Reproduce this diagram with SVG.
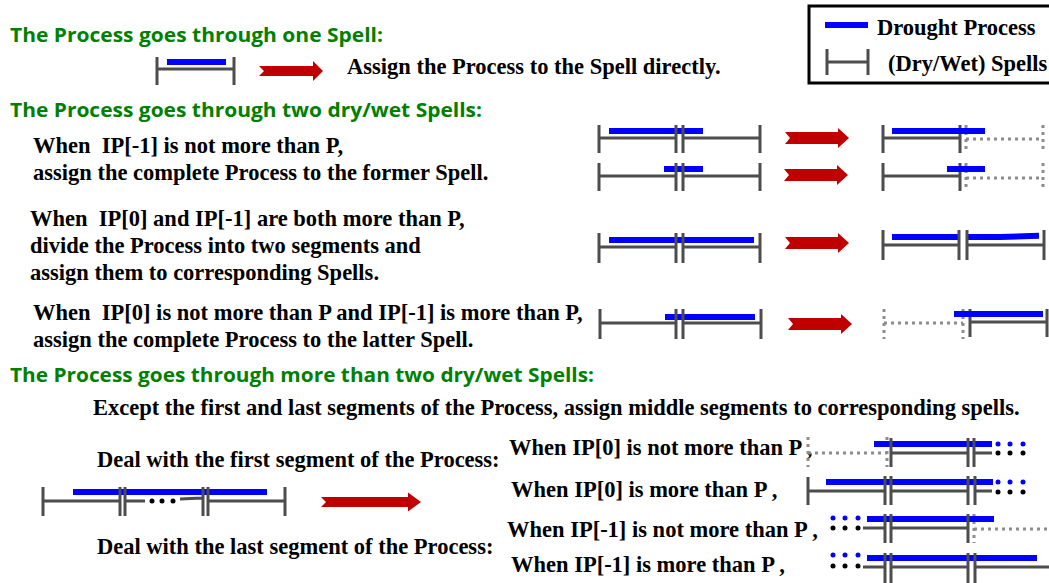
<svg xmlns="http://www.w3.org/2000/svg" width="1049" height="583" viewBox="0 0 1049 583">
<style>
.t{font-family:"Liberation Serif","Times New Roman",serif;font-weight:bold;font-size:22.5px;fill:#000;white-space:pre}
.g{font-family:"Open Sans","Noto Sans",sans-serif;font-weight:bold;font-size:20px;fill:#008000}
.sp{stroke:#4d4d4d;stroke-width:3;fill:none}
.pr{stroke:#0000ff;stroke-width:6;fill:none}
.dt{stroke:#8c8c8c;stroke-width:3;stroke-dasharray:3 4;fill:none}
.ar{fill:#c00000}
.bd{fill:#0000ff}
.kd{fill:#000}
</style>
<rect width="1049" height="583" fill="#fff"/>

<g id="legend">
<rect x="809" y="6" width="245" height="77" fill="#fff" stroke="#000" stroke-width="3"/>
<path class="pr" d="M825,25H868" stroke-width="5"/>
<text class="t" x="877" y="35">Drought Process</text>
<path class="sp" d="M827,49V75 M868,49V75 M827,62H868"/>
<text class="t" x="888" y="71">(Dry/Wet) Spells</text>
</g>

<g id="titles">
<text class="g" x="10" y="42" textLength="373" lengthAdjust="spacingAndGlyphs">The Process goes through one Spell:</text>
<text class="g" x="10" y="117" textLength="472" lengthAdjust="spacingAndGlyphs">The Process goes through two dry/wet Spells:</text>
<text class="g" x="10" y="382" textLength="584" lengthAdjust="spacingAndGlyphs">The Process goes through more than two dry/wet Spells:</text>
</g>

<g id="one-spell">
<path class="pr" d="M167,62H226"/>
<path class="sp" d="M157,57V85 M234,57V85 M157,69H234"/>
<text class="t" x="347" y="74">Assign the Process to the Spell directly.</text>
</g>

<g id="case-former">
<text class="t" x="33" y="153" xml:space="preserve">When  IP[-1] is not more than P,</text>
<text class="t" x="33" y="180">assign the complete Process to the former Spell.</text>
<g id="former-1-before">
<path class="pr" d="M609,131H703"/>
<path class="sp" d="M599,125V153 M676,125V153 M683,125V153 M760,125V153 M599,138H676 M683,138H760"/>
</g>
<g id="former-1-after">
<path class="dt" d="M966,125V153 M966,139H1043 M1043,125V153"/>
<path class="sp" d="M883,125V153 M960,125V153 M883,138H960"/>
<path class="pr" d="M892,131H985"/>
</g>
<g id="former-2-before">
<path class="pr" d="M664,169H703"/>
<path class="sp" d="M599,163V191 M676,163V191 M683,163V191 M760,163V191 M599,176H676 M683,176H760"/>
</g>
<g id="former-2-after">
<path class="dt" d="M966,163V191 M966,178H1043 M1043,163V191"/>
<path class="sp" d="M883,163V191 M960,163V191 M883,176H960"/>
<path class="pr" d="M947,169H985"/>
</g>
</g>

<g id="case-both">
<text class="t" x="30" y="226" xml:space="preserve">When  IP[0] and IP[-1] are both more than P,</text>
<text class="t" x="30" y="253">divide the Process into two segments and</text>
<text class="t" x="30" y="280">assign them to corresponding Spells.</text>
<g id="both-before">
<path class="pr" d="M609,240H754"/>
<path class="sp" d="M599,233V263 M676,233V263 M683,233V263 M760,233V263 M599,247H676 M683,247H760"/>
</g>
<g id="both-after">
<path class="pr" d="M892,237H959"/>
<path class="pr" d="M967,237H1000L1039,235.8"/>
<path class="sp" d="M883,230V260 M959,230V260 M967,230V260 M1044,230V260 M883,245H959 M967,245H1044"/>
</g>
</g>

<g id="case-latter">
<text class="t" x="33" y="320" xml:space="preserve">When  IP[0] is not more than P and IP[-1] is more than P,</text>
<text class="t" x="33" y="347">assign the complete Process to the latter Spell.</text>
<g id="latter-before">
<path class="pr" d="M665,317H755"/>
<path class="sp" d="M600,309V339 M676,309V339 M683,309V339 M761,309V339 M600,323H676 M683,323H761"/>
</g>
<g id="latter-after">
<path class="dt" d="M884,309V339 M884,323H963 M963,309V339"/>
<path class="sp" d="M970,309V337 M1047,309V337 M970,322H1047"/>
<path class="pr" d="M954,314H1043"/>
</g>
</g>

<g id="case-multi">
<text class="t" x="93" y="415">Except the first and last segments of the Process, assign middle segments to corresponding spells.</text>
<text class="t" x="97" y="467">Deal with the first segment of the Process:</text>
<text class="t" x="97" y="554">Deal with the last segment of the Process:</text>
<g id="multi-before">
<path class="pr" d="M73,492H267"/>
<path class="sp" d="M43,487V516 M120,487V516 M125,487V516 M203,487V516 M208,487V516 M285,487V516 M43,501H120 M125,501H145 M180,499L202,498 M208,501H285"/>
<circle class="kd" cx="152" cy="501" r="2.5"/>
<circle class="kd" cx="162" cy="501" r="2.5"/>
<circle class="kd" cx="173" cy="501" r="2.5"/>
</g>
</g>

<g id="first-not-more">
<text class="t" x="509" y="455">When IP[0] is not more than P ,</text>
<path class="dt" d="M808,437V467 M808,453H887 M887,437V467"/>
<path class="pr" d="M874,444H992"/>
<path class="sp" d="M891,438V467 M968,438V467 M974,438V467 M891,453H968 M974,453H992"/>
<circle class="bd" cx="998" cy="444" r="2.5"/><circle class="bd" cx="1010" cy="444" r="2.5"/><circle class="bd" cx="1023" cy="444" r="2.5"/>
<circle class="kd" cx="998" cy="453" r="2.5"/><circle class="kd" cx="1010" cy="453" r="2.5"/><circle class="kd" cx="1023" cy="453" r="2.5"/>
</g>

<g id="first-more">
<text class="t" x="511" y="497">When IP[0] is more than P ,</text>
<path class="pr" d="M826,482H993"/>
<path class="sp" d="M808,477V505 M885,476V505 M891,476V505 M968,476V505 M975,476V505 M808,491H885 M891,491H968 M975,491H992"/>
<circle class="bd" cx="998" cy="482" r="2.5"/><circle class="bd" cx="1010" cy="482" r="2.5"/><circle class="bd" cx="1023" cy="482" r="2.5"/>
<circle class="kd" cx="998" cy="492" r="2.5"/><circle class="kd" cx="1010" cy="492" r="2.5"/><circle class="kd" cx="1023" cy="492" r="2.5"/>
</g>

<g id="last-not-more">
<text class="t" x="507" y="537">When IP[-1] is not more than P ,</text>
<circle class="bd" cx="833" cy="518" r="2.5"/><circle class="bd" cx="845" cy="518" r="2.5"/><circle class="bd" cx="858" cy="518" r="2.5"/>
<circle class="kd" cx="833" cy="528" r="2.5"/><circle class="kd" cx="845" cy="528" r="2.5"/><circle class="kd" cx="858" cy="528" r="2.5"/>
<path class="dt" d="M974,514V543 M974,529H1049"/>
<path class="pr" d="M867,519H994"/>
<path class="sp" d="M885,514V543 M891,514V543 M968,514V543 M863,528H885 M891,528H968"/>
</g>

<g id="last-more">
<text class="t" x="511" y="572">When IP[-1] is more than P ,</text>
<circle class="bd" cx="833" cy="555" r="2.5"/><circle class="bd" cx="845" cy="555" r="2.5"/><circle class="bd" cx="858" cy="555" r="2.5"/>
<circle class="kd" cx="833" cy="566" r="2.5"/><circle class="kd" cx="845" cy="566" r="2.5"/><circle class="kd" cx="858" cy="566" r="2.5"/>
<path class="pr" d="M867,558H1037"/>
<path class="sp" d="M885,553V583 M891,553V583 M968,553V583 M975,553V583 M863,567H885 M891,567H968 M975,567H1049"/>
</g>

<g id="connectors">
<path class="ar" d="M259,66H313V61L323,71L313,81V76H259L264,71Z"/>
<path class="ar" d="M785,132H838V128L849,138L838,148V144H785L790,138Z"/>
<path class="ar" d="M784,169H837V165L848,175L837,185V181H784L789,175Z"/>
<path class="ar" d="M785,237H838V233L849,243L838,253V249H785L790,243Z"/>
<path class="ar" d="M788,318H841V314L852,324L841,334V330H788L793,324Z"/>
<path class="ar" d="M321,497H408V492.5L421,502L408,511.5V507H321L326,502Z"/>
</g>
</svg>
